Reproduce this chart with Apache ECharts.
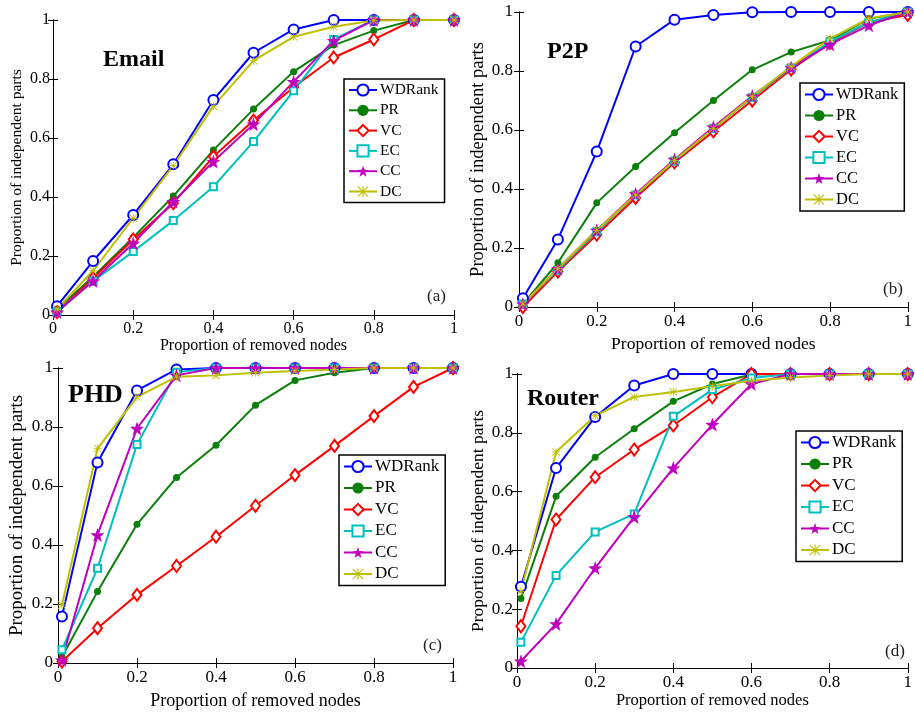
<!DOCTYPE html>
<html>
<head>
<meta charset="utf-8">
<title>Proportion of independent parts</title>
<script src="https://cdn.jsdelivr.net/npm/echarts@6.0.0/dist/echarts.min.js"></script>
<style>
    html, body { margin: 0; padding: 0; background: #fff; }
    #main { width: 915px; height: 717px; }
</style>
</head>
<body>
<div id="main"></div>
<script>
// x 轴：移除节点比例
var removed = [0.01, 0.1, 0.2, 0.3, 0.4, 0.5, 0.6, 0.7, 0.8, 0.9, 1];
var methods = ['WDRank', 'PR', 'VC', 'EC', 'CC', 'DC'];

// (a) Email
var emailWDRank = [0.03, 0.183, 0.339, 0.511, 0.729, 0.889, 0.968, 1, 1, 1, 1];
var emailPR = [0.02, 0.13, 0.263, 0.403, 0.559, 0.698, 0.825, 0.915, 0.964, 1, 1];
var emailVC = [0.01, 0.125, 0.256, 0.379, 0.537, 0.659, 0.772, 0.873, 0.934, 1, 1];
var emailEC = [0.01, 0.115, 0.215, 0.32, 0.435, 0.588, 0.76, 0.934, 1, 1, 1];
var emailCC = [0.01, 0.115, 0.243, 0.384, 0.52, 0.647, 0.791, 0.93, 1, 1, 1];
var emailDC = [0.02, 0.15, 0.328, 0.506, 0.708, 0.862, 0.943, 0.977, 0.998, 1, 1];

// (b) P2P
var p2pWDRank = [0.03, 0.229, 0.527, 0.883, 0.974, 0.99, 0.999, 1, 1, 1, 1];
var p2pPR = [0.01, 0.15, 0.353, 0.476, 0.591, 0.7, 0.804, 0.864, 0.904, 0.977, 1];
var p2pVC = [0.0, 0.12, 0.245, 0.37, 0.49, 0.595, 0.7, 0.805, 0.895, 0.965, 0.99];
var p2pEC = [0.01, 0.125, 0.255, 0.38, 0.495, 0.605, 0.71, 0.81, 0.9, 0.965, 1];
var p2pCC = [0.01, 0.13, 0.26, 0.383, 0.5, 0.61, 0.715, 0.812, 0.89, 0.955, 1];
var p2pDC = [0.01, 0.13, 0.26, 0.38, 0.497, 0.605, 0.713, 0.815, 0.91, 0.978, 1];

// (c) PHD
var phdWDRank = [0.158, 0.68, 0.924, 0.995, 1, 1, 1, 1, 1, 1, 1];
var phdPR = [0.02, 0.242, 0.47, 0.629, 0.738, 0.874, 0.958, 0.984, 1, 1, 1];
var phdVC = [0.005, 0.118, 0.231, 0.329, 0.428, 0.533, 0.637, 0.736, 0.837, 0.936, 1];
var phdEC = [0.045, 0.321, 0.741, 0.986, 1, 1, 1, 1, 1, 1, 1];
var phdCC = [0.01, 0.434, 0.795, 0.975, 1, 1, 1, 1, 1, 1, 1];
var phdDC = [0.197, 0.727, 0.902, 0.97, 0.975, 0.984, 0.99, 0.995, 1, 1, 1];

// (d) Router
var routerWDRank = [0.276, 0.68, 0.854, 0.961, 1, 1, 1, 1, 1, 1, 1];
var routerPR = [0.236, 0.584, 0.717, 0.814, 0.907, 0.966, 0.998, 1, 1, 1, 1];
var routerVC = [0.142, 0.505, 0.649, 0.743, 0.825, 0.921, 1, 1, 1, 1, 1];
var routerEC = [0.088, 0.315, 0.463, 0.524, 0.856, 0.947, 0.986, 1, 1, 1, 1];
var routerCC = [0.023, 0.15, 0.34, 0.514, 0.68, 0.828, 0.966, 1, 1, 1, 1];
var routerDC = [0.26, 0.735, 0.858, 0.922, 0.939, 0.958, 0.977, 0.988, 0.995, 1, 1];

var serif = '"Liberation Serif", "DejaVu Serif", serif';

// 各方法的颜色和标记 (MATLAB 风格)
var starPath = 'path://M10,0 L12.35,6.76 L19.51,6.91 L13.8,11.24 L15.88,18.09 L10,14 L4.12,18.09 L6.2,11.24 L0.49,6.91 L7.65,6.76 Z';
var asteriskPath = 'path://M9,0 L11,0 L11,20 L9,20 Z M0,9 L20,9 L20,11 L0,11 Z M1.4,0 L20,18.6 L18.6,20 L0,1.4 Z M18.6,0 L20,1.4 L1.4,20 L0,18.6 Z';
var styles = {
    WDRank: { color: '#0000ff', symbol: 'emptyCircle', size: 10, border: 1.6 },
    PR: { color: '#0a7f0a', symbol: 'circle', size: 7 },
    VC: { color: '#ff0000', symbol: 'emptyDiamond', size: [9, 12], border: 1.6 },
    EC: { color: '#00bfbf', symbol: 'emptyRect', size: 7, border: 1.6 },
    CC: { color: '#bf00bf', symbol: starPath, size: 14 },
    DC: { color: '#bfbf00', symbol: asteriskPath, size: 8 }
};

// 四个子图的布局
var panels = [
    { name: 'Email', tag: '(a)', values: [emailWDRank, emailPR, emailVC, emailEC, emailCC, emailDC],
      grid: { left: 53, top: 20, width: 401, height: 295 }, tickSize: 16, xNameSize: 16, yNameSize: 15.5,
      xGap: 19, yGap: 28, yMargin: 3,
      titlePos: [103, 48, 24], tagPos: [427, 288],
      legend: { left: 344, top: 79, font: 15.5, gap: 4.3 } },
    { name: 'P2P', tag: '(b)', values: [p2pWDRank, p2pPR, p2pVC, p2pEC, p2pCC, p2pDC],
      grid: { left: 519, top: 12, width: 395, height: 295 }, tickSize: 17, xNameSize: 17.5, yNameSize: 18.5,
      xGap: 28, yGap: 30, yMargin: 6,
      titlePos: [547, 40, 24], tagPos: [883, 281],
      legend: { left: 800, top: 83, font: 16.5, gap: 4 } },
    { name: 'PHD', tag: '(c)', values: [phdWDRank, phdPR, phdVC, phdEC, phdCC, phdDC],
      grid: { left: 58, top: 368, width: 395, height: 295 }, tickSize: 17, xNameSize: 18, yNameSize: 19,
      xGap: 29, yGap: 31, yMargin: 5,
      titlePos: [68, 382, 26], tagPos: [423, 637],
      legend: { left: 339, top: 455, font: 17, gap: 4.5 } },
    { name: 'Router', tag: '(d)', values: [routerWDRank, routerPR, routerVC, routerEC, routerCC, routerDC],
      grid: { left: 517, top: 374, width: 395, height: 294 }, tickSize: 17, xNameSize: 16.5, yNameSize: 17.5,
      xGap: 21, yGap: 30, yMargin: 4,
      titlePos: [527, 387, 24], tagPos: [885, 643],
      legend: { left: 796, top: 431, font: 17, gap: 4.5 } }
];

var grids = [], xAxes = [], yAxes = [], series = [], titles = [], legends = [];

panels.forEach(function (p, i) {
    grids.push(p.grid);

    var line = { show: true, lineStyle: { color: '#000', width: 1 } };
    var tick = { show: true, inside: true, length: 5, lineStyle: { color: '#000' } };
    var label = { color: '#000', fontFamily: serif, fontSize: p.tickSize };

    // 下方和左侧为主坐标轴，上方和右侧只画边框和刻度
    xAxes.push({
        gridIndex: i, type: 'value', min: 0, max: 1, interval: 0.2,
        name: 'Proportion of removed nodes', nameLocation: 'middle', nameGap: p.xGap,
        nameTextStyle: { color: '#000', fontFamily: serif, fontSize: p.xNameSize },
        axisLine: line, axisTick: tick, splitLine: { show: false },
        axisLabel: Object.assign({ margin: 6 }, label)
    });
    xAxes.push({
        gridIndex: i, type: 'value', position: 'top', min: 0, max: 1, interval: 0.2,
        axisLine: line, axisTick: tick, splitLine: { show: false }, axisLabel: { show: false }
    });
    yAxes.push({
        gridIndex: i, type: 'value', min: 0, max: 1, interval: 0.2,
        name: 'Proportion of independent parts', nameLocation: 'middle', nameGap: p.yGap,
        nameTextStyle: { color: '#000', fontFamily: serif, fontSize: p.yNameSize },
        axisLine: line, axisTick: tick, splitLine: { show: false },
        axisLabel: Object.assign({ margin: p.yMargin }, label)
    });
    yAxes.push({
        gridIndex: i, type: 'value', position: 'right', min: 0, max: 1, interval: 0.2,
        axisLine: line, axisTick: tick, splitLine: { show: false }, axisLabel: { show: false }
    });

    methods.forEach(function (m, k) {
        var s = styles[m];
        series.push({
            name: m, type: 'line',
            xAxisIndex: i * 2, yAxisIndex: i * 2,
            data: removed.map(function (x, j) { return [x, p.values[k][j]]; }),
            symbol: s.symbol, symbolSize: s.size, showAllSymbol: true,
            color: s.color,
            lineStyle: { color: s.color, width: 2 },
            itemStyle: s.border ? { color: s.color, borderWidth: s.border } : { color: s.color },
            animation: false
        });
    });

    titles.push({
        text: p.name, left: p.titlePos[0], top: p.titlePos[1], padding: 0,
        textStyle: { fontFamily: serif, fontWeight: 'bold', fontSize: p.titlePos[2], color: '#000' }
    });
    titles.push({
        text: p.tag, left: p.tagPos[0], top: p.tagPos[1], padding: 0,
        textStyle: { fontFamily: serif, fontWeight: 'normal', fontSize: 17, color: '#222' }
    });

    legends.push({
        data: methods, orient: 'vertical',
        left: p.legend.left, top: p.legend.top,
        itemWidth: 28, itemHeight: 14, itemGap: p.legend.gap,
        padding: [3, 6, 3, 4],
        borderColor: '#000', borderWidth: 1.5, backgroundColor: '#fff',
        textStyle: { fontFamily: serif, fontSize: p.legend.font, color: '#000', padding: [0, 0, 0, -2] },
        selectedMode: false
    });
});

var chart = echarts.init(document.getElementById('main'));
chart.setOption({
    backgroundColor: '#fff',
    animation: false,
    title: titles,
    legend: legends,
    grid: grids,
    xAxis: xAxes,
    yAxis: yAxes,
    series: series
});
</script>
</body>
</html>
